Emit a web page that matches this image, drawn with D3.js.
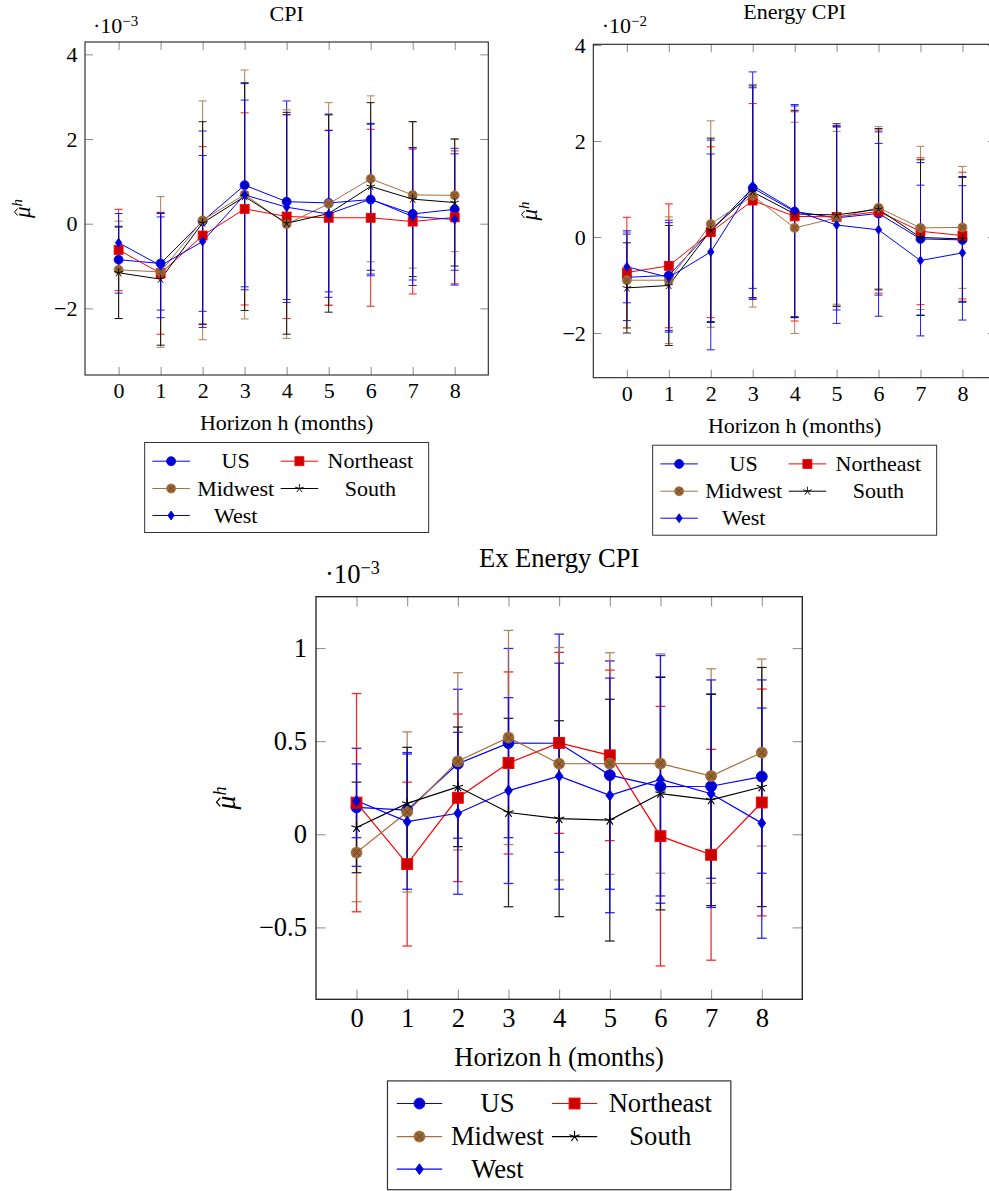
<!DOCTYPE html>
<html><head><meta charset="utf-8">
<script src="https://cdn.jsdelivr.net/npm/d3@7"></script>
<style>
body{margin:0;background:#fff}
svg{display:block}
text{font-family:"Liberation Serif","Times New Roman",serif;fill:#000}
</style>
</head><body>
<svg id="c" width="989" height="1191"></svg>
<script>
// ---------------- DATA ----------------
const horizons = [0,1,2,3,4,5,6,7,8];
const xTickLabels = ["0","1","2","3","4","5","6","7","8"];
const seriesNames = ["US","Northeast","Midwest","South","West"];

// CPI (x 10^-3)
const cpiUS    = [-0.85,-0.94, 0.06, 0.91, 0.52, 0.49, 0.57, 0.23, 0.34];
const cpiUSErr = [ 0.79, 1.10, 2.13, 2.40, 2.38, 2.10, 1.80, 1.56, 1.44];
const cpiNE    = [-0.62,-1.17,-0.28, 0.35, 0.17, 0.14, 0.14, 0.05, 0.15];
const cpiNEErr = [ 0.96, 1.44, 2.10, 2.27, 2.41, 2.07, 2.09, 1.71, 1.57];
const cpiMW    = [-1.09,-1.14, 0.08, 0.69,-0.01, 0.47, 1.06, 0.68, 0.67];
const cpiMWErr = [ 1.15, 1.78, 2.82, 2.94, 2.70, 2.39, 1.96, 1.73, 1.33];
const cpiS     = [-1.16,-1.31, 0.02, 0.64, 0.01, 0.24, 0.88, 0.58, 0.50];
const cpiSErr  = [ 1.08, 1.56, 2.39, 2.69, 2.62, 2.33, 1.98, 1.83, 1.50];
const cpiW     = [-0.45,-0.99,-0.42, 0.68, 0.39, 0.23, 0.58, 0.17, 0.10];
const cpiWErr  = [ 0.69, 1.23, 2.03, 2.24, 2.18, 1.97, 1.77, 1.63, 1.55];
const cpiYTicks = [-2, 0, 2, 4];
const cpiYTickLabels = ["\u22122","0","2","4"];

// Energy CPI (x 10^-2)
const enUS    = [-0.84,-0.80, 0.13, 1.02, 0.53, 0.40, 0.49,-0.04,-0.06];
const enUSErr = [ 0.90, 1.15, 1.89, 2.09, 2.20, 1.92, 1.70, 1.59, 1.30];
const enNE    = [-0.74,-0.60, 0.10, 0.76, 0.43, 0.42, 0.53, 0.12, 0.03];
const enNEErr = [ 1.15, 1.29, 1.78, 2.02, 2.18, 1.87, 1.70, 1.53, 1.32];
const enMW    = [-0.90,-0.90, 0.27, 0.86, 0.19, 0.40, 0.61, 0.19, 0.20];
const enMWErr = [ 1.00, 1.32, 2.15, 2.32, 2.20, 1.80, 1.69, 1.70, 1.27];
const enS     = [-1.06,-1.01, 0.14, 0.94, 0.48, 0.46, 0.58,-0.01,-0.04];
const enSErr  = [ 0.94, 1.25, 1.92, 2.21, 2.16, 1.90, 1.68, 1.62, 1.30];
const enW     = [-0.62,-0.84,-0.31, 1.07, 0.55, 0.25, 0.15,-0.49,-0.33];
const enWErr  = [ 0.75, 1.14, 2.04, 2.37, 2.21, 2.05, 1.80, 1.57, 1.40];
const enYTicks = [-2, 0, 2, 4];
const enYTickLabels = ["\u22122","0","2","4"];

// Ex Energy CPI (x 10^-3)
const exUS    = [0.145, 0.130, 0.379, 0.490, 0.489, 0.318, 0.256, 0.258, 0.310];
const exUSErr = [0.317, 0.309, 0.400, 0.508, 0.586, 0.613, 0.587, 0.494, 0.519];
const exNE    = [0.170,-0.160, 0.196, 0.383, 0.491, 0.424,-0.010,-0.110, 0.171];
const exNEErr = [0.586, 0.440, 0.450, 0.489, 0.486, 0.458, 0.697, 0.566, 0.609];
const exMW    = [-0.098, 0.120, 0.392, 0.520, 0.379, 0.380, 0.380, 0.313, 0.439];
const exMWErr = [0.264, 0.430, 0.476, 0.575, 0.624, 0.595, 0.589, 0.576, 0.502];
const exS     = [0.037, 0.166, 0.255, 0.117, 0.084, 0.076, 0.219, 0.185, 0.254];
const exSErr  = [0.243, 0.301, 0.321, 0.506, 0.526, 0.649, 0.625, 0.568, 0.642];
const exW     = [0.180, 0.068, 0.113, 0.235, 0.312, 0.209, 0.295, 0.218, 0.060];
const exWErr  = [0.198, 0.363, 0.435, 0.499, 0.607, 0.630, 0.665, 0.611, 0.618];
const exYTicks = [-0.5, 0, 0.5, 1];
const exYTickLabels = ["\u22120.5","0","0.5","1"];

// ---------------- STYLE ----------------
const FONT = '"Liberation Serif", "Times New Roman", serif';
const styles = [
  {line:"#0000ff", fill:"#0000cc", mark:"circle"},
  {line:"#ff0000", fill:"#cc0000", mark:"square"},
  {line:"#a87040", fill:"#996633", mark:"otimes"},
  {line:"#000000", fill:"#000000", mark:"star"},
  {line:"#0000ff", fill:"#0000cc", mark:"diamond"}
];

const svg = d3.select("#c");
svg.append("rect").attr("width",989).attr("height",1191).attr("fill","#fff");

function drawMark(g, type, cx, cy, st, s){
  const r = 4.5*s;
  if(type==="circle"){
    g.append("circle").attr("cx",cx).attr("cy",cy).attr("r",r)
      .attr("fill",st.fill).attr("stroke",st.line).attr("stroke-width",0.8*s);
  } else if(type==="square"){
    g.append("rect").attr("x",cx-r).attr("y",cy-r).attr("width",2*r).attr("height",2*r)
      .attr("fill",st.fill).attr("stroke",st.line).attr("stroke-width",0.8*s);
  } else if(type==="otimes"){
    g.append("circle").attr("cx",cx).attr("cy",cy).attr("r",r)
      .attr("fill",st.fill).attr("stroke",st.line).attr("stroke-width",0.8*s);
    const k = r*0.707;
    g.append("path").attr("d",`M${cx-k},${cy-k}L${cx+k},${cy+k}M${cx-k},${cy+k}L${cx+k},${cy-k}`)
      .attr("stroke","#6b4423").attr("stroke-width",0.8*s);
  } else if(type==="star"){
    let d="";
    for(let i=0;i<5;i++){
      const a = -Math.PI/2 + i*2*Math.PI/5;
      d += `M${cx},${cy}L${cx+r*Math.cos(a)},${cy+r*Math.sin(a)}`;
    }
    g.append("path").attr("d",d).attr("stroke",st.line).attr("stroke-width",0.9*s).attr("fill","none");
  } else if(type==="diamond"){
    const w = 3.2*s;
    g.append("path").attr("d",`M${cx},${cy-r}L${cx+w},${cy}L${cx},${cy+r}L${cx-w},${cy}Z`)
      .attr("fill",st.fill).attr("stroke",st.line).attr("stroke-width",0.8*s);
  }
}

function txt(g){ return g.append("text").attr("font-family",FONT).attr("fill","#000"); }

let clipCount = 0;
function drawChart(L, means, errs){
  const s = L.s, fs = 22*s, fsSup = 15*s;
  const g = svg.append("g");
  const x = d3.scaleLinear().domain([-0.8, 8.8]).range([L.left, L.left+L.width]);
  const y = d3.scaleLinear().domain(L.yDomain).range([L.top+L.height, L.top]);
  const tick = 8*s;

  const axB = g.append("g").attr("transform",`translate(0,${L.top+L.height})`)
    .call(d3.axisBottom(x).tickValues(horizons).tickFormat((d,i)=>xTickLabels[i])
      .tickSize(-tick).tickPadding(23*s-0.71*fs));
  const axT = g.append("g").attr("transform",`translate(0,${L.top})`)
    .call(d3.axisTop(x).tickValues(horizons).tickFormat("").tickSize(-tick));
  const axL = g.append("g").attr("transform",`translate(${L.left},0)`)
    .call(d3.axisLeft(y).tickValues(L.yTicks).tickFormat((d,i)=>L.yTickLabels[i])
      .tickSize(-tick).tickPadding(7.5*s));
  const axR = g.append("g").attr("transform",`translate(${L.left+L.width},0)`)
    .call(d3.axisRight(y).tickValues(L.yTicks).tickFormat("").tickSize(-tick));
  [axB,axT,axL,axR].forEach(a=>{
    a.attr("font-family",FONT).attr("font-size",fs);
    a.select(".domain").remove();
    a.selectAll(".tick line").attr("stroke","#8a8a8a").attr("stroke-width",1);
    a.selectAll(".tick text").attr("font-size",fs).attr("font-family",FONT).attr("fill","#000");
  });

  const cid = "clip"+(clipCount++);
  svg.append("clipPath").attr("id",cid).append("rect")
    .attr("x",L.left).attr("y",L.top).attr("width",L.width).attr("height",L.height);
  const pg = g.append("g").attr("clip-path",`url(#${cid})`);

  const line = d3.line().x((d,i)=>x(horizons[i])).y(d=>y(d));
  means.forEach((m,si)=>{
    const st = styles[si];
    const e = errs[si];
    pg.append("path").attr("d",line(m)).attr("fill","none")
      .attr("stroke",st.line).attr("stroke-width",1*s);
    const eb = pg.append("g").attr("stroke",st.line).attr("stroke-width",1.05*s).attr("opacity",0.85);
    m.forEach((v,i)=>{
      const cx = x(horizons[i]), y1 = y(v+e[i]), y2 = y(v-e[i]), cw = 4*s;
      eb.append("line").attr("x1",cx).attr("x2",cx).attr("y1",y1).attr("y2",y2);
      eb.append("line").attr("x1",cx-cw).attr("x2",cx+cw).attr("y1",y1).attr("y2",y1);
      eb.append("line").attr("x1",cx-cw).attr("x2",cx+cw).attr("y1",y2).attr("y2",y2);
    });
  });
  const mg = g.append("g");
  means.forEach((m,si)=>{
    m.forEach((v,i)=>drawMark(mg, styles[si].mark, x(horizons[i]), y(v), styles[si], s));
  });

  g.append("rect").attr("x",L.left).attr("y",L.top).attr("width",L.width).attr("height",L.height)
    .attr("fill","none").attr("stroke","#222").attr("stroke-width",1.1*s);

  txt(g).attr("x",L.left+L.width/2).attr("y",L.titleY).attr("text-anchor","middle")
    .attr("font-size",fs).text(L.title);
  const sc = txt(g).attr("x",L.scaleX).attr("y",L.scaleY).attr("font-size",fs);
  sc.append("tspan").text("\u00b710");
  sc.append("tspan").attr("font-size",fsSup).attr("dy",-7.5*s).text(L.scaleExp);
  txt(g).attr("x",L.left+L.width/2).attr("y",L.top+L.height+55*s)
    .attr("text-anchor","middle").attr("font-size",fs).text("Horizon h (months)");

  // y label: mu-hat with superscript h, rotated
  const yg = g.append("g").attr("transform",`translate(${L.ylabelX},${L.top+L.height/2}) rotate(-90)`);
  const x0 = -9.5*s;
  txt(yg).attr("x",x0).attr("y",6*s).attr("font-size",fs*1.05).attr("font-style","italic").text("\u03bc");
  txt(yg).attr("x",x0+11.5*s).attr("y",-2*s).attr("font-size",fsSup).attr("font-style","italic").text("h");
  yg.append("path").attr("d",`M${x0+2.5*s},${-6.5*s}L${x0+6*s},${-9.5*s}L${x0+9.5*s},${-6.5*s}`)
    .attr("fill","none").attr("stroke","#000").attr("stroke-width",1*s);

  // legend
  const bw = 284*s, bh = 90*s;
  const bx = L.left+L.width/2-bw/2, by = L.top+L.height+67.5*s;
  const lg = g.append("g");
  lg.append("rect").attr("x",bx).attr("y",by).attr("width",bw).attr("height",bh)
    .attr("fill","#fff").attr("stroke","#333").attr("stroke-width",1*s);
  const rows = [18.7, 46, 73];
  seriesNames.forEach((name,i)=>{
    const col = i%2, row = Math.floor(i/2);
    const ly = by + rows[row]*s;
    const l0 = bx + (col===0?7.7:136)*s, l1 = l0 + 37.5*s;
    const tc = bx + (col===0?91:225.7)*s;
    lg.append("line").attr("x1",l0).attr("x2",l1).attr("y1",ly).attr("y2",ly)
      .attr("stroke",styles[i].line).attr("stroke-width",1*s);
    drawMark(lg, styles[i].mark, (l0+l1)/2, ly, styles[i], s);
    txt(lg).attr("x",tc).attr("y",ly+0.33*fs).attr("text-anchor","middle")
      .attr("font-size",fs).text(name);
  });
}

drawChart({left:85, top:42, width:403.3, height:333, s:1,
  yDomain:[-3.574, 4.292], yTicks:cpiYTicks, yTickLabels:cpiYTickLabels,
  title:"CPI", titleY:20.7, scaleX:93, scaleY:33.3, scaleExp:"\u22123", ylabelX:24},
  [cpiUS,cpiNE,cpiMW,cpiS,cpiW],[cpiUSErr,cpiNEErr,cpiMWErr,cpiSErr,cpiWErr]);

drawChart({left:593.3, top:44.3, width:402.7, height:333.4, s:1,
  yDomain:[-2.931, 4.015], yTicks:enYTicks, yTickLabels:enYTickLabels,
  title:"Energy CPI", titleY:18.5, scaleX:601.7, scaleY:33.3, scaleExp:"\u22122", ylabelX:531},
  [enUS,enNE,enMW,enS,enW],[enUSErr,enNEErr,enMWErr,enSErr,enWErr]);

drawChart({left:316, top:596.7, width:486.3, height:402.6, s:1.209,
  yDomain:[-0.886, 1.276], yTicks:exYTicks, yTickLabels:exYTickLabels,
  title:"Ex Energy CPI", titleY:566.7, scaleX:325, scaleY:583.3, scaleExp:"\u22123", ylabelX:228},
  [exUS,exNE,exMW,exS,exW],[exUSErr,exNEErr,exMWErr,exSErr,exWErr]);
</script>
</body></html>
